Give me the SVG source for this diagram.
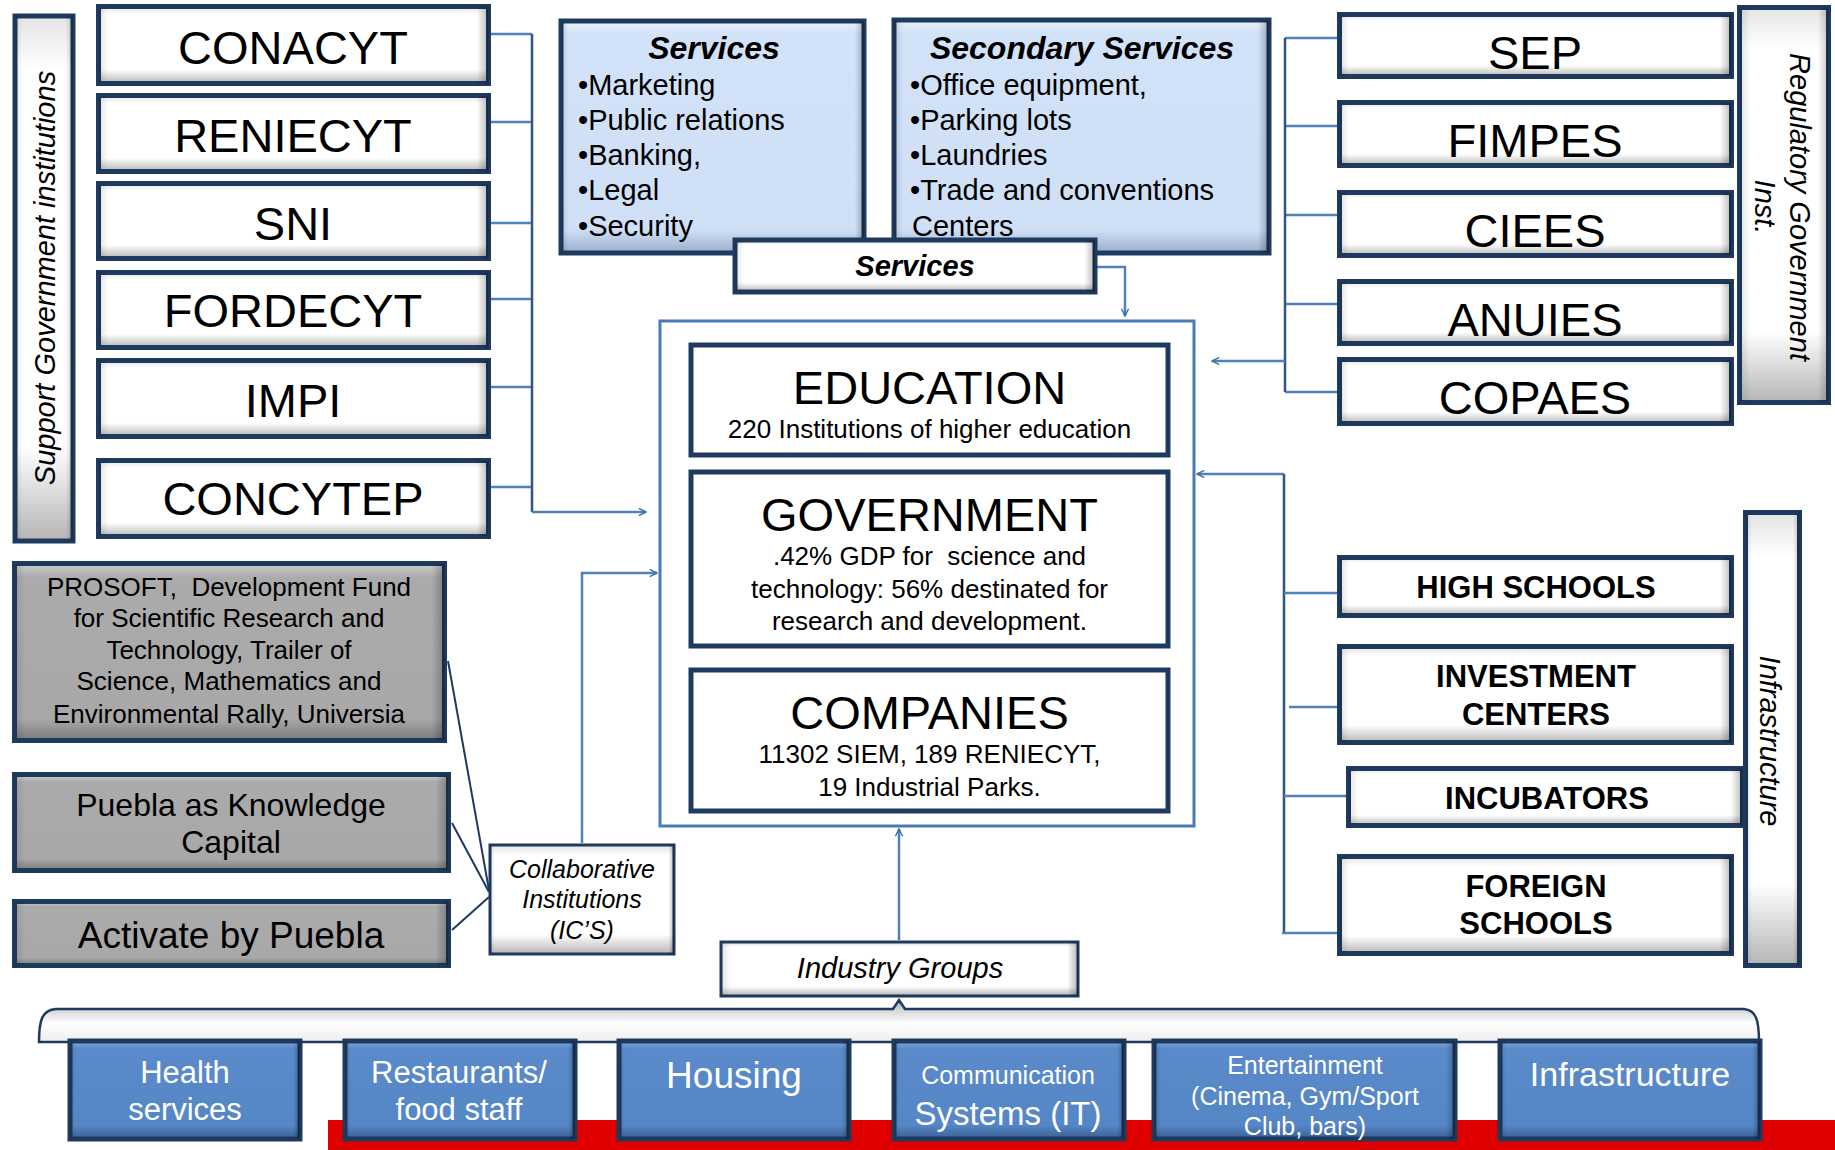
<svg xmlns="http://www.w3.org/2000/svg" width="1835" height="1150" viewBox="0 0 1835 1150">
<defs>
<linearGradient id="gW" x1="0" y1="0" x2="0" y2="1"><stop offset="0" stop-color="#E4E4E4"/><stop offset="0.1" stop-color="#FFFFFF"/><stop offset="0.82" stop-color="#FFFFFF"/><stop offset="1" stop-color="#B5B5B5"/></linearGradient>
<linearGradient id="gG" x1="0" y1="0" x2="0" y2="1"><stop offset="0" stop-color="#CDCDCD"/><stop offset="0.08" stop-color="#ABABAB"/><stop offset="0.88" stop-color="#A8A8A8"/><stop offset="1" stop-color="#7A7A7A"/></linearGradient>
<linearGradient id="gL" x1="0" y1="0" x2="0" y2="1"><stop offset="0" stop-color="#E8F0FB"/><stop offset="0.06" stop-color="#D2E2F8"/><stop offset="0.9" stop-color="#CFDFF6"/><stop offset="1" stop-color="#9AAECB"/></linearGradient>
<linearGradient id="gB" x1="0" y1="0" x2="0" y2="1"><stop offset="0" stop-color="#86AAD9"/><stop offset="0.08" stop-color="#5A8ACA"/><stop offset="0.86" stop-color="#5586C6"/><stop offset="1" stop-color="#3A5F90"/></linearGradient>
<linearGradient id="gH" x1="0" y1="0" x2="1" y2="0"><stop offset="0" stop-color="#000" stop-opacity="0.12"/><stop offset="0.025" stop-color="#000" stop-opacity="0"/><stop offset="0.97" stop-color="#000" stop-opacity="0"/><stop offset="1" stop-color="#000" stop-opacity="0.28"/></linearGradient>
<linearGradient id="gV" x1="0" y1="0" x2="1" y2="0"><stop offset="0" stop-color="#000" stop-opacity="0.12"/><stop offset="0.12" stop-color="#000" stop-opacity="0"/><stop offset="0.88" stop-color="#000" stop-opacity="0"/><stop offset="1" stop-color="#000" stop-opacity="0.22"/></linearGradient>
<linearGradient id="gBr" x1="0" y1="0" x2="0" y2="1"><stop offset="0" stop-color="#8E9AAA"/><stop offset="0.2" stop-color="#D0D0D0"/><stop offset="0.55" stop-color="#FFFFFF"/><stop offset="1" stop-color="#EDEDED"/></linearGradient>
<marker id="ah" viewBox="0 0 10 10" refX="9" refY="5" markerWidth="9" markerHeight="9" markerUnits="userSpaceOnUse" orient="auto"><path d="M1,1 L9,5 L1,9" fill="none" stroke="#3F6FA8" stroke-width="1.6"/></marker>
<style>
.nb{stroke:#1F3A5F;stroke-width:5}
.nt{stroke:#1F3A5F;stroke-width:3}
.wb{fill:url(#gW)}
.gb{fill:url(#gG)}
.lb{fill:url(#gL)}
.bb{fill:url(#gB)}
.sh{fill:url(#gH);stroke:none}
.sv{fill:url(#gV);stroke:none}
.con{fill:none;stroke:#4F81BD;stroke-width:2.5}
.trk{fill:none;stroke:#2F5589;stroke-width:2.5}
.gl{fill:none;stroke:#1F3A5F;stroke-width:2}
text{font-family:"Liberation Sans",Arial,sans-serif;fill:#000}
.pre{white-space:pre}
.big{font-size:47px;text-anchor:middle}
.c{text-anchor:middle}
.it{font-style:italic}
.bd{font-weight:bold}
.wt{fill:#FFFFFF;text-anchor:middle}
</style>
</defs>
<rect width="1835" height="1150" fill="#FFFFFF"/>

<g id="connectors">
<polyline class="con" points="491,34 532,34"/>
<polyline class="con" points="491,122 532,122"/>
<polyline class="con" points="491,223 532,223"/>
<polyline class="con" points="491,299 532,299"/>
<polyline class="con" points="491,387 532,387"/>
<polyline class="con" points="491,487 532,487"/>
<polyline class="trk" points="532,34 532,512"/>
<polyline class="con" points="532,512 646,512" marker-end="url(#ah)"/>
<polyline class="con" points="582,843 582,573 657,573" marker-end="url(#ah)"/>
<polyline class="con" points="1097,267 1125,267 1125,316" marker-end="url(#ah)"/>
<polyline class="con" points="1285,38 1339,38"/>
<polyline class="con" points="1285,126 1339,126"/>
<polyline class="con" points="1285,215 1339,215"/>
<polyline class="con" points="1285,304 1339,304"/>
<polyline class="con" points="1285,392 1339,392"/>
<polyline class="trk" points="1285,38 1285,392"/>
<polyline class="con" points="1285,361 1212,361" marker-end="url(#ah)"/>
<polyline class="con" points="1284,474 1197,474" marker-end="url(#ah)"/>
<polyline class="trk" points="1284,474 1284,933"/>
<polyline class="con" points="1284,593 1339,593"/>
<polyline class="con" points="1289,707 1339,707"/>
<polyline class="con" points="1284,796 1348,796"/>
<polyline class="con" points="1282,933 1339,933"/>
<polyline class="con" points="899,940 899,829" marker-end="url(#ah)"/>
<line class="gl" x1="448" y1="661" x2="489" y2="890"/>
<line class="gl" x1="452" y1="823" x2="489" y2="892"/>
<line class="gl" x1="452" y1="930" x2="489" y2="897"/>
</g>

<g id="support-gov">
<rect class="nb wb" x="15" y="16" width="58" height="525"/><rect class="sv" x="15" y="16" width="58" height="525"/>
<text class="it c" font-size="29" transform="translate(55,278) rotate(-90)">Support Government institutions</text>
</g>
<g id="conacyt"><rect class="nb wb" x="98.5" y="6.5" width="390" height="77"/><rect class="sh" x="98.5" y="6.5" width="390" height="77"/><text class="big" x="293" y="64">CONACYT</text></g>
<g id="reniecyt"><rect class="nb wb" x="98.5" y="95.5" width="390" height="76"/><rect class="sh" x="98.5" y="95.5" width="390" height="76"/><text class="big" x="293" y="152">RENIECYT</text></g>
<g id="sni"><rect class="nb wb" x="98.5" y="183.5" width="390" height="75"/><rect class="sh" x="98.5" y="183.5" width="390" height="75"/><text class="big" x="293" y="240">SNI</text></g>
<g id="fordecyt"><rect class="nb wb" x="98.5" y="272.5" width="390" height="75"/><rect class="sh" x="98.5" y="272.5" width="390" height="75"/><text class="big" x="293" y="327">FORDECYT</text></g>
<g id="impi"><rect class="nb wb" x="98.5" y="360.5" width="390" height="76"/><rect class="sh" x="98.5" y="360.5" width="390" height="76"/><text class="big" x="293" y="417">IMPI</text></g>
<g id="concytep"><rect class="nb wb" x="98.5" y="460.5" width="390" height="76"/><rect class="sh" x="98.5" y="460.5" width="390" height="76"/><text class="big" x="293" y="515">CONCYTEP</text></g>

<g id="prosoft">
<rect class="nb gb" x="14.5" y="563.5" width="430" height="177"/><rect class="sh" x="14.5" y="563.5" width="430" height="177"/>
<text class="c pre" font-size="26" x="229" y="596">PROSOFT,  Development Fund</text>
<text class="c" font-size="26" x="229" y="627">for Scientific Research and</text>
<text class="c" font-size="26" x="229" y="659">Technology, Trailer of</text>
<text class="c" font-size="26" x="229" y="690">Science, Mathematics and</text>
<text class="c" font-size="26" x="229" y="723">Environmental Rally, Universia</text>
</g>
<g id="puebla-knowledge">
<rect class="nb gb" x="14.5" y="774.5" width="434" height="96"/><rect class="sh" x="14.5" y="774.5" width="434" height="96"/>
<text class="c" font-size="32" x="231" y="816">Puebla as Knowledge</text>
<text class="c" font-size="32" x="231" y="853">Capital</text>
</g>
<g id="activate">
<rect class="nb gb" x="14.5" y="901.5" width="434" height="64"/><rect class="sh" x="14.5" y="901.5" width="434" height="64"/>
<text class="c" font-size="37" x="231" y="948">Activate by Puebla</text>
</g>
<g id="collaborative">
<rect class="nt wb" x="490" y="845" width="184" height="109"/><rect class="sh" x="490" y="845" width="184" height="109"/>
<text class="c it" font-size="25" x="582" y="878">Collaborative</text>
<text class="c it" font-size="25" x="582" y="908">Institutions</text>
<text class="c it" font-size="25" x="582" y="939">(IC’S)</text>
</g>

<g id="services">
<rect class="nb lb" x="561" y="21" width="303" height="232"/><rect class="sh" x="561" y="21" width="303" height="232"/>
<text class="c it bd" font-size="32" x="714" y="59">Services</text>
<text font-size="29" x="578" y="95">•Marketing</text>
<text font-size="29" x="578" y="130">•Public relations</text>
<text font-size="29" x="578" y="165">•Banking,</text>
<text font-size="29" x="578" y="200">•Legal</text>
<text font-size="29" x="578" y="236">•Security</text>
</g>
<g id="secondary-services">
<rect class="nb lb" x="894" y="20" width="375" height="233"/><rect class="sh" x="894" y="20" width="375" height="233"/>
<text class="c it bd" font-size="32" x="1082" y="59">Secondary Services</text>
<text font-size="29" x="910" y="95">•Office equipment,</text>
<text font-size="29" x="910" y="130">•Parking lots</text>
<text font-size="29" x="910" y="165">•Laundries</text>
<text font-size="29" x="910" y="200">•Trade and conventions</text>
<text font-size="29" x="912" y="236">Centers</text>
</g>
<g id="services-small">
<rect class="nb wb" x="735" y="240" width="360" height="52"/><rect class="sh" x="735" y="240" width="360" height="52"/>
<text class="c it bd" font-size="29" x="915" y="276">Services</text>
</g>

<g id="core-frame">
<rect x="660" y="321" width="534" height="505" fill="none" stroke="#4A7AB8" stroke-width="3"/>
</g>
<g id="education">
<rect class="nb" fill="#FFFFFF" x="691" y="345" width="477" height="110"/>
<text class="big" x="929.5" y="404">EDUCATION</text>
<text class="c" font-size="26" x="929.5" y="438">220 Institutions of higher education</text>
</g>
<g id="government">
<rect class="nb" fill="#FFFFFF" x="691" y="472" width="477" height="174"/>
<text class="big" x="929.5" y="531">GOVERNMENT</text>
<text class="c pre" font-size="26" x="929.5" y="565">.42% GDP for  science and</text>
<text class="c" font-size="26" x="929.5" y="598">technology: 56% destinated for</text>
<text class="c" font-size="26" x="929.5" y="630">research and development.</text>
</g>
<g id="companies">
<rect class="nb" fill="#FFFFFF" x="691" y="670" width="477" height="141"/>
<text class="big" x="929.5" y="729">COMPANIES</text>
<text class="c" font-size="26" x="929.5" y="763">11302 SIEM, 189 RENIECYT,</text>
<text class="c" font-size="26" x="929.5" y="796">19 Industrial Parks.</text>
</g>

<g id="sep"><rect class="nb wb" x="1339.5" y="14.5" width="392" height="62"/><rect class="sh" x="1339.5" y="14.5" width="392" height="62"/><text class="big" x="1535" y="69">SEP</text></g>
<g id="fimpes"><rect class="nb wb" x="1339.5" y="102.5" width="392" height="63"/><rect class="sh" x="1339.5" y="102.5" width="392" height="63"/><text class="big" x="1535" y="157">FIMPES</text></g>
<g id="ciees"><rect class="nb wb" x="1339.5" y="192.5" width="392" height="63"/><rect class="sh" x="1339.5" y="192.5" width="392" height="63"/><text class="big" x="1535" y="247">CIEES</text></g>
<g id="anuies"><rect class="nb wb" x="1339.5" y="281.5" width="392" height="62"/><rect class="sh" x="1339.5" y="281.5" width="392" height="62"/><text class="big" x="1535" y="336">ANUIES</text></g>
<g id="copaes"><rect class="nb wb" x="1339.5" y="359.5" width="392" height="64"/><rect class="sh" x="1339.5" y="359.5" width="392" height="64"/><text class="big" x="1535" y="414">COPAES</text></g>
<g id="regulatory">
<rect class="nb wb" x="1739.5" y="7.5" width="89" height="395"/><rect class="sv" x="1739.5" y="7.5" width="89" height="395"/>
<text class="it c" font-size="29" transform="translate(1790,207) rotate(90)"><tspan x="0" y="0">Regulatory Government</tspan><tspan x="0" y="35">Inst.</tspan></text>
</g>

<g id="high-schools"><rect class="nb wb" x="1339.5" y="557.5" width="392" height="58"/><rect class="sh" x="1339.5" y="557.5" width="392" height="58"/><text class="c bd" font-size="31" x="1536" y="598">HIGH SCHOOLS</text></g>
<g id="investment"><rect class="nb wb" x="1339.5" y="646.5" width="392" height="96"/><rect class="sh" x="1339.5" y="646.5" width="392" height="96"/><text class="c bd" font-size="31" x="1536" y="687">INVESTMENT</text><text class="c bd" font-size="31" x="1536" y="725">CENTERS</text></g>
<g id="infrastructure-side">
<rect class="nb wb" x="1745.5" y="512.5" width="54" height="453"/><rect class="sv" x="1745.5" y="512.5" width="54" height="453"/>
<text class="it c" font-size="29" transform="translate(1760,741) rotate(90)">Infrastructure</text>
</g>
<g id="incubators"><rect class="nb wb" x="1348.5" y="768.5" width="394" height="57"/><rect class="sh" x="1348.5" y="768.5" width="394" height="57"/><text class="c bd" font-size="31" x="1547" y="809">INCUBATORS</text></g>
<g id="foreign"><rect class="nb wb" x="1339.5" y="856.5" width="392" height="97"/><rect class="sh" x="1339.5" y="856.5" width="392" height="97"/><text class="c bd" font-size="31" x="1536" y="897">FOREIGN</text><text class="c bd" font-size="31" x="1536" y="934">SCHOOLS</text></g>

<g id="industry-groups">
<rect class="nt wb" x="721" y="942" width="357" height="54"/><rect class="sh" x="721" y="942" width="357" height="54"/>
<text class="c it" font-size="29" x="900" y="978">Industry Groups</text>
</g>

<g id="bracket">
<path d="M39,1042 C39,1020 42,1010 56,1009 L893,1009 L899,1000 L905,1009 L1744,1009 C1756,1010 1759,1020 1759,1042 Z" fill="url(#gBr)" stroke="#1F3A5F" stroke-width="2.5"/>
</g>

<rect x="328" y="1120" width="1507" height="30" fill="#E00000"/>

<g id="health"><rect class="nb bb" x="70" y="1041" width="230" height="98"/><rect class="sh" x="70" y="1041" width="230" height="98"/><text class="wt" font-size="31" x="185" y="1083">Health</text><text class="wt" font-size="31" x="185" y="1120">services</text></g>
<g id="restaurants"><rect class="nb bb" x="345" y="1041" width="230" height="98"/><rect class="sh" x="345" y="1041" width="230" height="98"/><text class="wt" font-size="31" x="459" y="1083">Restaurants/</text><text class="wt" font-size="31" x="459" y="1120">food staff</text></g>
<g id="housing"><rect class="nb bb" x="619" y="1041" width="230" height="98"/><rect class="sh" x="619" y="1041" width="230" height="98"/><text class="wt" font-size="37" x="734" y="1088">Housing</text></g>
<g id="communication"><rect class="nb bb" x="894" y="1041" width="230" height="98"/><rect class="sh" x="894" y="1041" width="230" height="98"/><text class="wt" font-size="25" x="1008" y="1084">Communication</text><text class="wt" font-size="33" x="1008" y="1125">Systems (IT)</text></g>
<g id="entertainment"><rect class="nb bb" x="1154" y="1041" width="301" height="98"/><rect class="sh" x="1154" y="1041" width="301" height="98"/><text class="wt" font-size="25" x="1305" y="1074">Entertainment</text><text class="wt" font-size="25" x="1305" y="1105">(Cinema, Gym/Sport</text><text class="wt" font-size="25" x="1305" y="1135">Club, bars)</text></g>
<g id="infrastructure-bottom"><rect class="nb bb" x="1500" y="1041" width="260" height="98"/><rect class="sh" x="1500" y="1041" width="260" height="98"/><text class="wt" font-size="34" x="1630" y="1086">Infrastructure</text></g>
</svg>
